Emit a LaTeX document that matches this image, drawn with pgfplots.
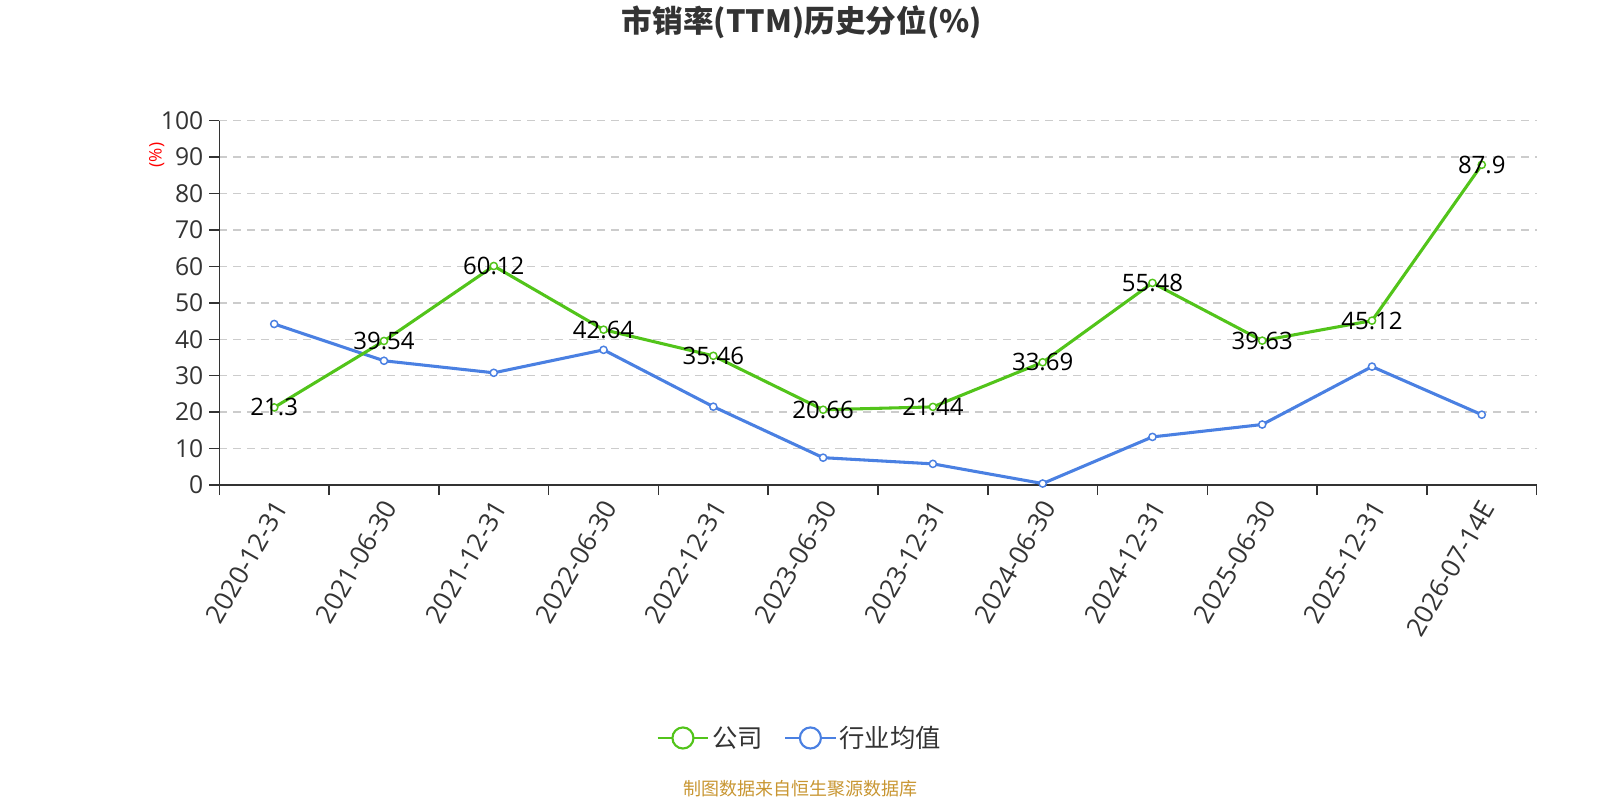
\documentclass[border=0pt]{standalone}
\usepackage{pgfplots}
\pgfplotsset{compat=1.18}
\usepackage{fontspec}
\setmainfont{Open Sans}
\newfontfamily\cjk{Noto Sans CJK SC}
\definecolor{cgreen}{RGB}{82,196,26}
\definecolor{cblue}{RGB}{74,128,226}
\definecolor{ctext}{RGB}{51,51,51}
\definecolor{cgrid}{RGB}{204,204,204}
\definecolor{cfoot}{RGB}{200,150,50}

\pgfplotstableread{
x y
0 44.2
1 34.1
2 30.8
3 37.1
4 21.5
5 7.5
6 5.8
7 0.4
8 13.2
9 16.6
10 32.5
11 19.3
}\industry

\pgfplotstableread{
x y
0 21.3
1 39.54
2 60.12
3 42.64
4 35.46
5 20.66
6 21.44
7 33.69
8 55.48
9 39.63
10 45.12
11 87.9
}\company

\begin{document}
\begin{tikzpicture}
\useasboundingbox (0,0) rectangle (1200pt,600pt);
\begin{axis}[
  at={(164.5pt,236.25pt)}, anchor=south west,
  scale only axis, width=988pt, height=273.2pt,
  xmin=-0.5, xmax=11.5, ymin=0, ymax=100,
  /pgf/number format/assume math mode=true,
  axis x line*=bottom, axis y line*=left,
  axis line style={ctext, line width=1.1pt, -},
  xtick={-0.5,0.5,...,11.5}, xticklabels={},
  extra x ticks={0,1,2,3,4,5,6,7,8,9,10,11},
  extra x tick labels={2020-12-31,2021-06-30,2021-12-31,2022-06-30,2022-12-31,2023-06-30,2023-12-31,2024-06-30,2024-12-31,2025-06-30,2025-12-31,2026-07-14E},
  extra x tick style={major tick length=0pt, grid=none,
    tick label style={rotate=60, anchor=east, yshift=-11pt, xshift=-6pt,
      font=\fontsize{19.5}{22}\selectfont}},
  ytick={0,10,...,100},
  ymajorgrids,
  grid style={cgrid, line width=1pt, dash pattern=on 6pt off 4.5pt},
  tick align=outside,
  major tick length=7.5pt,
  tick style={ctext, line width=1.1pt},
  xtick pos=bottom, ytick pos=left,
  ticklabel style={font=\fontsize{18.5}{21}\selectfont, text=ctext},
  yticklabel style={xshift=-1pt},
  clip=false,
  reverse legend,
  legend style={at={(0.4408,-0.6945)}, anchor=center, draw=none, fill=none,
    font=\fontsize{19}{22}\selectfont\cjk, text=ctext,
    /tikz/every even column/.append style={column sep=14pt}},
  legend columns=2,
  legend image code/.code={
    \draw[line width=1.6pt] (0pt,0pt) -- (38pt,0pt);
    \draw[line width=1.6pt, fill=white] (19pt,0pt) circle (7.9pt);
  },
]
\addplot[cblue, line width=2.3pt, mark=*, mark size=2.7pt,
  mark options={fill=white, draw=cblue, line width=1.1pt}]
  table[x=x,y=y] {\industry};
\addlegendentry{行业均值}
\addplot[cgreen, line width=2.3pt, mark=*, mark size=2.7pt,
  mark options={fill=white, draw=cgreen, line width=1.1pt},
  nodes near coords={\pgfmathprintnumber{\pgfplotspointmeta}},
  point meta=y,
  every node near coord/.append style={anchor=center, text=black,
    font=\fontsize{18}{21}\selectfont, inner sep=0pt}]
  table[x=x,y=y] {\company};
\addlegendentry{公司}
\end{axis}
\node[font=\fontsize{23}{27}\selectfont\cjk\bfseries, text=ctext] at (601.5pt,583.5pt) {市销率(TTM)历史分位(\%)};
\node[rotate=90, text=red, font=\fontsize{13}{15}\selectfont] at (117.5pt,483.75pt) {(\%)};
\node[font=\fontsize{13.5}{16}\selectfont\cjk, text=cfoot] at (600pt,8.6pt) {制图数据来自恒生聚源数据库};
\end{tikzpicture}
\end{document}
